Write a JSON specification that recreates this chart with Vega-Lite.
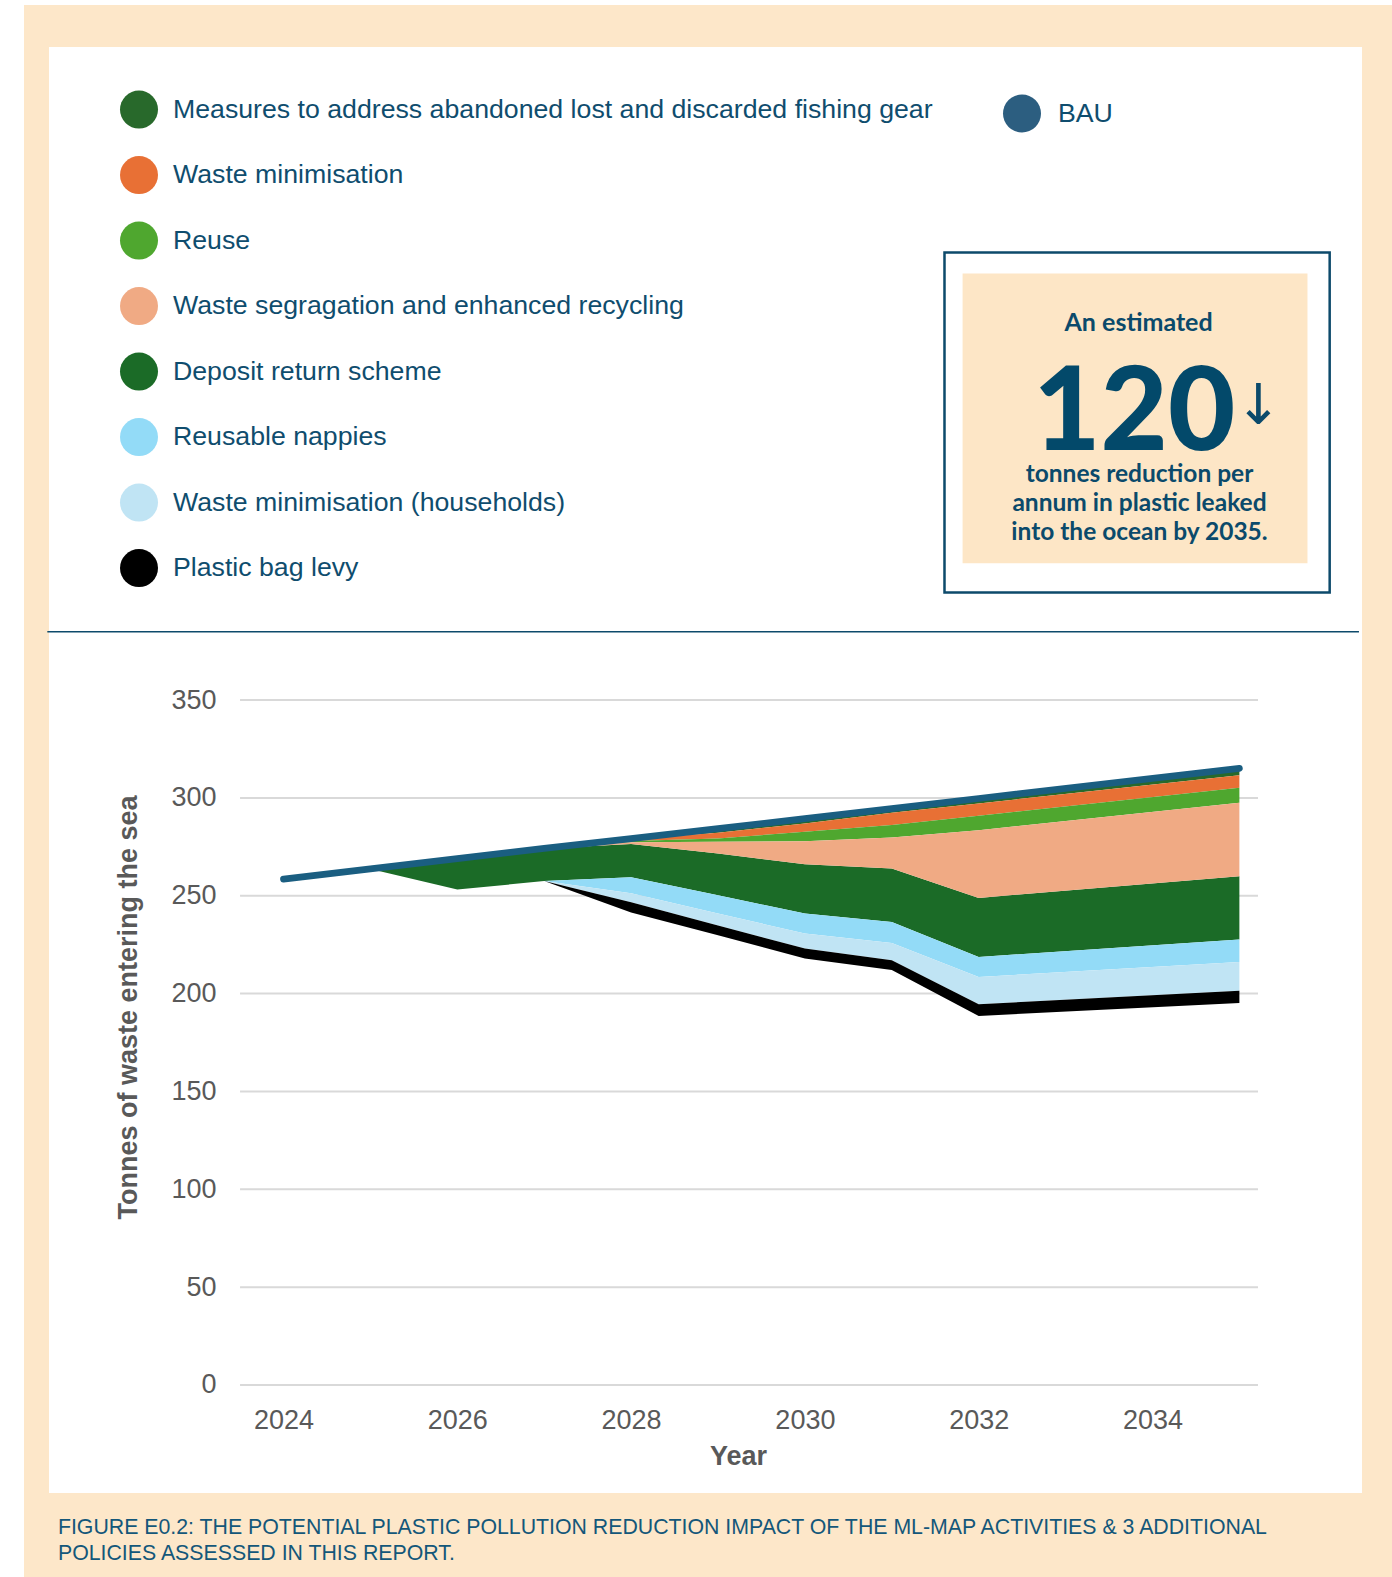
{
  "$schema": "https://vega.github.io/schema/vega-lite/v6.json",
  "width": 1313,
  "height": 1446,
  "autosize": {"type": "none"},
  "padding": {"left": 49, "top": 47, "right": 30, "bottom": 84},
  "background": "#fde7c9",
  "config": {"view": {"fill": "white", "stroke": null}, "font": "Liberation Sans"},
  "datasets": {
    "bands": [
      {"year": 2025, "series": "Deposit return scheme", "lo": 263.7, "hi": 263.7},
      {"year": 2026, "series": "Deposit return scheme", "lo": 253.2, "hi": 269.0},
      {"year": 2027, "series": "Deposit return scheme", "lo": 257.5, "hi": 274.2},
      {"year": 2028, "series": "Deposit return scheme", "lo": 259.4, "hi": 276.4},
      {"year": 2029, "series": "Deposit return scheme", "lo": 250.3, "hi": 271.6},
      {"year": 2030, "series": "Deposit return scheme", "lo": 240.9, "hi": 266.1},
      {"year": 2031, "series": "Deposit return scheme", "lo": 236.6, "hi": 263.9},
      {"year": 2032, "series": "Deposit return scheme", "lo": 218.7, "hi": 248.9},
      {"year": 2035, "series": "Deposit return scheme", "lo": 227.6, "hi": 260.0},

      {"year": 2027, "series": "Measures to address abandoned lost and discarded fishing gear", "lo": 274.2, "hi": 274.2},
      {"year": 2028, "series": "Measures to address abandoned lost and discarded fishing gear", "lo": 278.9, "hi": 279.2},
      {"year": 2029, "series": "Measures to address abandoned lost and discarded fishing gear", "lo": 282.2, "hi": 284.3},
      {"year": 2030, "series": "Measures to address abandoned lost and discarded fishing gear", "lo": 286.9, "hi": 289.4},
      {"year": 2031, "series": "Measures to address abandoned lost and discarded fishing gear", "lo": 292.4, "hi": 294.5},
      {"year": 2032, "series": "Measures to address abandoned lost and discarded fishing gear", "lo": 297.2, "hi": 299.7},
      {"year": 2035, "series": "Measures to address abandoned lost and discarded fishing gear", "lo": 311.6, "hi": 315.1},

      {"year": 2027, "series": "Waste minimisation", "lo": 274.2, "hi": 274.2},
      {"year": 2028, "series": "Waste minimisation", "lo": 278.0, "hi": 278.9},
      {"year": 2029, "series": "Waste minimisation", "lo": 279.3, "hi": 282.2},
      {"year": 2030, "series": "Waste minimisation", "lo": 282.7, "hi": 286.9},
      {"year": 2031, "series": "Waste minimisation", "lo": 286.1, "hi": 292.4},
      {"year": 2032, "series": "Waste minimisation", "lo": 290.9, "hi": 297.2},
      {"year": 2035, "series": "Waste minimisation", "lo": 305.2, "hi": 311.6},

      {"year": 2027, "series": "Reuse", "lo": 274.2, "hi": 274.2},
      {"year": 2028, "series": "Reuse", "lo": 277.3, "hi": 278.0},
      {"year": 2029, "series": "Reuse", "lo": 277.6, "hi": 279.3},
      {"year": 2030, "series": "Reuse", "lo": 277.9, "hi": 282.7},
      {"year": 2031, "series": "Reuse", "lo": 279.8, "hi": 286.1},
      {"year": 2032, "series": "Reuse", "lo": 283.5, "hi": 290.9},
      {"year": 2035, "series": "Reuse", "lo": 297.5, "hi": 305.2},

      {"year": 2027, "series": "Waste segragation and enhanced recycling", "lo": 274.2, "hi": 274.2},
      {"year": 2028, "series": "Waste segragation and enhanced recycling", "lo": 276.4, "hi": 277.3},
      {"year": 2029, "series": "Waste segragation and enhanced recycling", "lo": 271.6, "hi": 277.6},
      {"year": 2030, "series": "Waste segragation and enhanced recycling", "lo": 266.1, "hi": 277.9},
      {"year": 2031, "series": "Waste segragation and enhanced recycling", "lo": 263.9, "hi": 279.8},
      {"year": 2032, "series": "Waste segragation and enhanced recycling", "lo": 248.9, "hi": 283.5},
      {"year": 2035, "series": "Waste segragation and enhanced recycling", "lo": 260.0, "hi": 297.5},

      {"year": 2027, "series": "Reusable nappies", "lo": 257.5, "hi": 257.5},
      {"year": 2028, "series": "Reusable nappies", "lo": 251.3, "hi": 259.4},
      {"year": 2029, "series": "Reusable nappies", "lo": 240.9, "hi": 250.3},
      {"year": 2030, "series": "Reusable nappies", "lo": 230.7, "hi": 240.9},
      {"year": 2031, "series": "Reusable nappies", "lo": 225.9, "hi": 236.6},
      {"year": 2032, "series": "Reusable nappies", "lo": 208.5, "hi": 218.7},
      {"year": 2035, "series": "Reusable nappies", "lo": 216.2, "hi": 227.6},

      {"year": 2027, "series": "Waste minimisation (households)", "lo": 257.5, "hi": 257.5},
      {"year": 2028, "series": "Waste minimisation (households)", "lo": 246.7, "hi": 251.3},
      {"year": 2029, "series": "Waste minimisation (households)", "lo": 234.8, "hi": 240.9},
      {"year": 2030, "series": "Waste minimisation (households)", "lo": 223.0, "hi": 230.7},
      {"year": 2031, "series": "Waste minimisation (households)", "lo": 217.1, "hi": 225.9},
      {"year": 2032, "series": "Waste minimisation (households)", "lo": 194.6, "hi": 208.5},
      {"year": 2035, "series": "Waste minimisation (households)", "lo": 201.4, "hi": 216.2},

      {"year": 2027, "series": "Plastic bag levy", "lo": 257.5, "hi": 257.5},
      {"year": 2028, "series": "Plastic bag levy", "lo": 241.5, "hi": 246.7},
      {"year": 2029, "series": "Plastic bag levy", "lo": 229.8, "hi": 234.8},
      {"year": 2030, "series": "Plastic bag levy", "lo": 217.9, "hi": 223.0},
      {"year": 2031, "series": "Plastic bag levy", "lo": 212.0, "hi": 217.1},
      {"year": 2032, "series": "Plastic bag levy", "lo": 188.6, "hi": 194.6},
      {"year": 2035, "series": "Plastic bag levy", "lo": 195.2, "hi": 201.4}
    ],
    "bau": [
      {"year": 2024, "series": "BAU", "value": 258.5},
      {"year": 2025, "series": "BAU", "value": 263.7},
      {"year": 2026, "series": "BAU", "value": 269.0},
      {"year": 2027, "series": "BAU", "value": 274.2},
      {"year": 2028, "series": "BAU", "value": 279.2},
      {"year": 2029, "series": "BAU", "value": 284.3},
      {"year": 2030, "series": "BAU", "value": 289.4},
      {"year": 2031, "series": "BAU", "value": 294.5},
      {"year": 2032, "series": "BAU", "value": 299.7},
      {"year": 2035, "series": "BAU", "value": 315.1}
    ],
    "grid": [{"v": 0}, {"v": 50}, {"v": 100}, {"v": 150}, {"v": 200}, {"v": 250}, {"v": 300}, {"v": 350}]
  },
  "layer": [
    {
      "data": {"values": [{}]},
      "mark": {"type": "rect", "fill": "white"},
      "encoding": {
        "x": {"datum": 2020.7376, "scale": {"domain": [2021.3015, 2036.411], "nice": false, "zero": false}},
        "x2": {"datum": 2021.0138},
        "y": {"datum": 707.72, "scale": {"domain": [-55.19, 683.70], "nice": false, "zero": false}},
        "y2": {"datum": -98.11}
      }
    },
    {
      "data": {"values": [{}]},
      "mark": {"type": "rect", "fill": "white"},
      "encoding": {
        "x": {"datum": 2020.7376, "scale": {"domain": [2021.3015, 2036.411], "nice": false, "zero": false}},
        "x2": {"datum": 2036.756},
        "y": {"datum": 707.72, "scale": {"domain": [-55.19, 683.70], "nice": false, "zero": false}},
        "y2": {"datum": 705.16}
      }
    },
    {
      "data": {"name": "grid"},
      "mark": {"type": "rule", "color": "#d9d9d9", "strokeWidth": 2},
      "encoding": {
        "y": {"field": "v", "type": "quantitative", "scale": {"domain": [-55.19, 683.70], "nice": false, "zero": false}},
        "x": {"datum": 2023.5, "scale": {"domain": [2021.3015, 2036.411], "nice": false, "zero": false}},
        "x2": {"datum": 2035.214}
      }
    },
    {
      "data": {"name": "bands"},
      "mark": {"type": "area", "opacity": 1, "interpolate": "linear"},
      "encoding": {
        "x": {
          "field": "year", "type": "quantitative",
          "scale": {"domain": [2021.3015, 2036.411], "nice": false, "zero": false},
          "axis": {
            "title": "Year", "values": [2024, 2026, 2028, 2030, 2032, 2034], "format": "d",
            "offset": -108, "grid": false, "domain": false, "ticks": false, "tickSize": 0,
            "labelPadding": 22, "labelFontSize": 27, "labelColor": "#595959", "labelFont": "Liberation Sans", "labelOverlap": false,
            "titleFont": "Liberation Sans", "titleFontSize": 27, "titleFontWeight": "bold", "titleColor": "#595959",
            "titleX": 689, "titleY": 71, "titleBaseline": "middle", "titleAlign": "center"
          }
        },
        "y": {
          "field": "lo", "type": "quantitative",
          "scale": {"domain": [-55.19, 683.70], "nice": false, "zero": false},
          "axis": {
            "title": "Tonnes of waste entering the sea", "values": [0, 50, 100, 150, 200, 250, 300, 350],
            "offset": -167, "grid": false, "domain": false, "ticks": false, "tickSize": 0,
            "labelPadding": 0, "labelFontSize": 27, "labelColor": "#595959", "labelFont": "Liberation Sans", "labelOverlap": false,
            "titleFont": "Liberation Sans", "titleFontSize": 27, "titleFontWeight": "bold", "titleColor": "#595959",
            "titleX": -88, "titleY": 960, "titleAngle": -90, "titleAlign": "center", "titleBaseline": "middle"
          }
        },
        "y2": {"field": "hi"},
        "color": {
          "field": "series", "type": "nominal",
          "scale": {
            "domain": ["Measures to address abandoned lost and discarded fishing gear", "Waste minimisation", "Reuse", "Waste segragation and enhanced recycling", "Deposit return scheme", "Reusable nappies", "Waste minimisation (households)", "Plastic bag levy"],
            "range": ["#28692b", "#e87035", "#4fa72f", "#f0aa84", "#1b6b27", "#93dbf7", "#c0e4f4", "#000000"]
          },
          "legend": {
            "title": null, "orient": "none", "legendX": 71, "legendY": 43.6, "direction": "vertical",
            "symbolType": "circle", "symbolSize": 1444, "symbolStrokeWidth": 0, "symbolOpacity": 1,
            "labelFont": "Liberation Sans", "labelFontSize": 26.7, "labelColor": "#0f4d6e", "labelOffset": 15, "labelLimit": 1000,
            "rowPadding": 27.5, "padding": 0
          }
        }
      }
    },
    {
      "data": {"name": "bau"},
      "mark": {"type": "line", "strokeWidth": 6.7, "strokeCap": "round", "strokeJoin": "round"},
      "encoding": {
        "x": {"field": "year", "type": "quantitative", "scale": {"domain": [2021.3015, 2036.411], "nice": false, "zero": false}},
        "y": {"field": "value", "type": "quantitative", "scale": {"domain": [-55.19, 683.70], "nice": false, "zero": false}},
        "stroke": {
          "field": "series", "type": "nominal",
          "scale": {"domain": ["BAU"], "range": ["#1a5e81"]},
          "legend": {
            "title": null, "orient": "none", "legendX": 954, "legendY": 47.5,
            "symbolType": "circle", "symbolSize": 1444, "symbolFillColor": "#2c5e80", "symbolStrokeColor": "#2c5e80", "symbolStrokeWidth": 0, "symbolOpacity": 1,
            "labelFont": "Liberation Sans", "labelFontSize": 26.7, "labelColor": "#0f4d6e", "labelOffset": 17, "padding": 0
          }
        }
      }
    },
    {
      "data": {"values": [{}]},
      "mark": {"type": "rule", "color": "#0d4a6b", "strokeWidth": 1.5},
      "encoding": {
        "x": {"datum": 2021.282, "scale": {"domain": [2021.3015, 2036.411], "nice": false, "zero": false}},
        "x2": {"datum": 2036.376},
        "y": {"datum": 384.92, "scale": {"domain": [-55.19, 683.70], "nice": false, "zero": false}}
      }
    },
    {
      "data": {"values": [{}]},
      "mark": {"type": "rect", "fill": "#fde6c6"},
      "encoding": {
        "x": {"datum": 2031.8147, "scale": {"domain": [2021.3015, 2036.411], "nice": false, "zero": false}},
        "x2": {"datum": 2035.7836},
        "y": {"datum": 567.91, "scale": {"domain": [-55.19, 683.70], "nice": false, "zero": false}},
        "y2": {"datum": 419.93}
      }
    },
    {
      "data": {"values": [{}]},
      "mark": {"type": "rect", "fill": "white", "fillOpacity": 0, "stroke": "#0d4a6b", "strokeWidth": 2.5},
      "encoding": {
        "x": {"datum": 2031.6065, "scale": {"domain": [2021.3015, 2036.411], "nice": false, "zero": false}},
        "x2": {"datum": 2036.039},
        "y": {"datum": 578.69, "scale": {"domain": [-55.19, 683.70], "nice": false, "zero": false}},
        "y2": {"datum": 405.01}
      }
    },
    {
      "data": {"values": [{}]},
      "mark": {"type": "text", "align": "center", "baseline": "middle", "font": "Lato", "fontWeight": "bold", "fontSize": 25, "fill": "#0b4a6b"},
      "encoding": {
        "x": {"datum": 2033.8401, "scale": {"domain": [2021.3015, 2036.411], "nice": false, "zero": false}},
        "y": {"datum": 542.67, "scale": {"domain": [-55.19, 683.70], "nice": false, "zero": false}},
        "text": {"value": "An estimated"}
      }
    },
    {
      "data": {"values": [{}]},
      "mark": {"type": "text", "align": "center", "baseline": "alphabetic", "font": "Lato", "fontWeight": 900, "fontSize": 116, "fill": "#03496a"},
      "encoding": {
        "x": {"datum": 2033.79, "scale": {"domain": [2021.3015, 2036.411], "nice": false, "zero": false}},
        "y": {"datum": 477.77, "scale": {"domain": [-55.19, 683.70], "nice": false, "zero": false}},
        "text": {"value": "120"}
      }
    },
    {
      "data": {"values": [{}]},
      "mark": {"type": "text", "align": "center", "baseline": "middle", "font": "DejaVu Sans", "fontWeight": "normal", "fontSize": 56, "fill": "#0b4a6b"},
      "encoding": {
        "x": {"datum": 2035.22, "scale": {"domain": [2021.3015, 2036.411], "nice": false, "zero": false}},
        "y": {"datum": 499.74, "scale": {"domain": [-55.19, 683.70], "nice": false, "zero": false}},
        "text": {"value": "↓"}
      }
    },
    {
      "data": {"values": [{}]},
      "mark": {"type": "text", "align": "center", "baseline": "middle", "font": "Lato", "fontWeight": "bold", "fontSize": 24.5, "lineHeight": 29, "fill": "#0b4a6b"},
      "encoding": {
        "x": {"datum": 2033.8505, "scale": {"domain": [2021.3015, 2036.411], "nice": false, "zero": false}},
        "y": {"datum": 465.15, "scale": {"domain": [-55.19, 683.70], "nice": false, "zero": false}},
        "text": {"value": ["tonnes reduction per", "annum in plastic leaked", "into the ocean by 2035."]}
      }
    },
    {
      "data": {"values": [{}]},
      "mark": {"type": "text", "align": "left", "baseline": "middle", "font": "Liberation Sans", "fontWeight": "normal", "fontSize": 21.3, "lineHeight": 26, "fill": "#14577a"},
      "encoding": {
        "x": {"datum": 2021.4042, "scale": {"domain": [2021.3015, 2036.411], "nice": false, "zero": false}},
        "y": {"datum": -73.3, "scale": {"domain": [-55.19, 683.70], "nice": false, "zero": false}},
        "text": {"value": ["FIGURE E0.2: THE POTENTIAL PLASTIC POLLUTION REDUCTION IMPACT OF THE ML-MAP ACTIVITIES & 3 ADDITIONAL", "POLICIES ASSESSED IN THIS REPORT."]}
      }
    }
  ]
}
